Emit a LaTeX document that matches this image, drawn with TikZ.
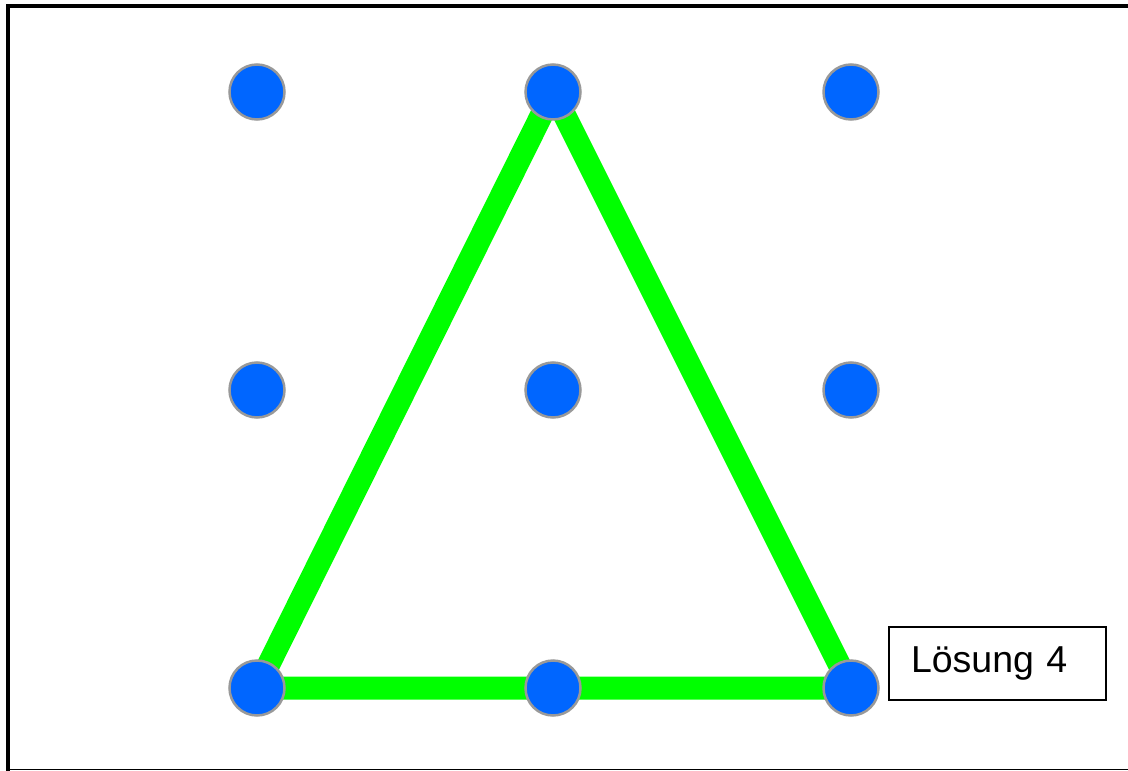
\documentclass[tikz,border=0pt]{standalone}
\usepackage{fontspec}
\setmainfont{Liberation Sans}
\definecolor{dotBlue}{HTML}{0066FF}
\definecolor{dotRim}{HTML}{999999}
\definecolor{lineGreen}{HTML}{00FF00}
\tikzset{
  dot/.style={circle, fill=dotBlue, draw=dotRim, line width=2.5pt,
    minimum size=55pt, inner sep=0pt},
  edge/.style={draw=lineGreen, line width=23pt, line join=miter},
  label/.style={draw=black, line width=2pt, minimum height=73pt,
    text width=173pt, inner xsep=22pt, align=left, font=\fontsize{37.5}{40}\selectfont},
}
\begin{document}
\begin{tikzpicture}[x=1pt, y=-1pt]
  \useasboundingbox (0,0) rectangle (1128,771);

  % ---- Frame -------------------------------------------------------------
  \draw[line width=4pt] (1128,5.5) -- (6,5.5);
  \draw[line width=4pt] (8,4) -- (8,770.5);
  \draw[line width=1.5pt] (6,769.5) -- (1128,769.5);

  % ---- Grid points -------------------------------------------------------
  \foreach \r/\y in {1/92, 2/390, 3/688}
    \foreach \c/\x in {1/257, 2/553, 3/851}
      \coordinate (p-\r-\c) at (\x,\y);

  % ---- Triangle ----------------------------------------------------------
  \draw[edge] (p-3-1) -- (p-1-2) -- (p-3-3) -- cycle;

  % ---- Dots --------------------------------------------------------------
  \foreach \r in {1,2,3}
    \foreach \c in {1,2,3}
      \node[dot] (d-\r-\c) at (p-\r-\c) {};

  \node[label, anchor=west] (sol) at (888,663.5) {Lösung 4};

\end{tikzpicture}
\end{document}
